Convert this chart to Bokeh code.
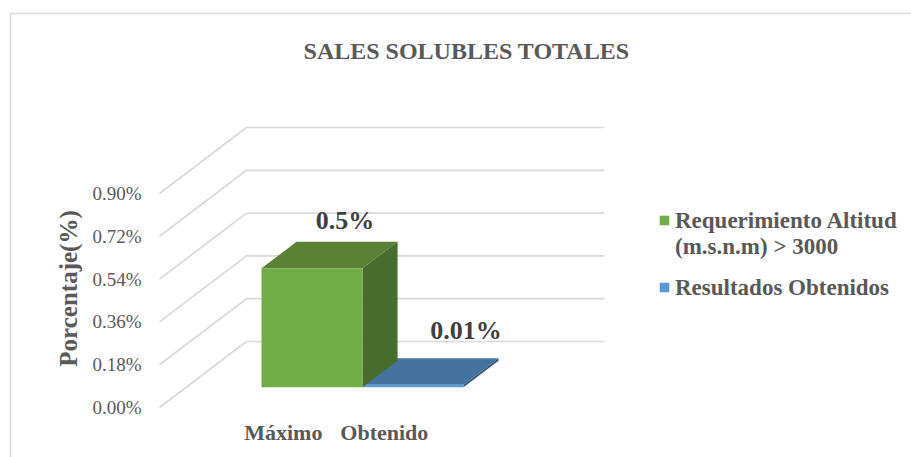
from bokeh.plotting import figure
from bokeh.models import LinearAxis, FixedTicker, Legend, LegendItem
from bokeh.core.properties import value
from bokeh.embed import file_html
from bokeh.resources import INLINE

# data
categories = ["Máximo", "Obtenido"]
series_names = ["Requerimiento Altitud\n(m.s.n.m) > 3000", "Resultados Obtenidos"]
series_values = [0.5, 0.01]
data_labels = ["0.5%", "0.01%"]
y_ticks = [0.0, 0.18, 0.36, 0.54, 0.72, 0.9]
y_tick_labels = ["0.00%", "0.18%", "0.36%", "0.54%", "0.72%", "0.90%"]
title_text = "SALES SOLUBLES TOTALES"
y_title = "Porcentaje(%)"

# styles
FONT = "Liberation Serif"
GRID = "#d9d9d9"
TEXT = "#595959"
FRONT = ["#70AD47", "#5B9BD5"]
TOP = ["#5A8135", "#44739F"]
SIDE = ["#476D2D", "#355A7C"]
LABEL_DX = [-2, 18]
LABEL_DY = [21, 28]

W, H = 911, 457
PX_Y = 0.18 / 42.8          # value per pixel
PX_X = 1 / 101.0            # category per pixel
cat0_page_x = 282.8
zero_page_y = 407.0
BAR_SHIFT = 2 * PX_X
x_start = -cat0_page_x * PX_X
y_start = -(H - zero_page_y) * PX_Y

p = figure(width=W, height=H, output_backend="svg", toolbar_location=None,
           x_range=(x_start, x_start + W * PX_X), y_range=(y_start, y_start + H * PX_Y),
           min_border=0, outline_line_color=None, x_axis_type=None, y_axis_type=None)
p.grid.visible = False

def px(page_x):
    return x_start + page_x * PX_X
def py(page_y):
    return (zero_page_y - page_y) * PX_Y

# depth of the 3-D box, in data units per unit depth
DX, DY = 87 * PX_X, 66 * PX_Y
def proj(cat_x, v, d):
    return cat_x + BAR_SHIFT + d * DX, v + d * DY

# outer chart border (top and left only are visible)
p.segment([px(10), px(10)], [py(13), py(13)],
          [px(911), px(10)], [py(13), py(457)],
          line_color=GRID, line_width=1.7)

# gridlines
gx0, gx1 = px(159), px(246)
gx2 = px(604)
p.multi_line([[gx0, gx1, gx2] for _ in y_ticks],
             [[t, t + DY, t + DY] for t in y_ticks], line_color=GRID, line_width=1.7)

# bars
D0, D1 = 0.307, 0.71
HALF = 0.5
legend_items = {}
for i in [1, 0]:
    v = series_values[i]
    l, r = i - HALF, i + HALF
    xs, ys = zip(*[proj(l, v, D0), proj(r, v, D0), proj(r, v, D1), proj(l, v, D1)])
    p.patch(list(xs), list(ys), fill_color=TOP[i], line_color=None)
    xs, ys = zip(*[proj(r, 0, D0), proj(r, 0, D1), proj(r, v, D1), proj(r, v, D0)])
    p.patch(list(xs), list(ys), fill_color=SIDE[i], line_color=None)
    fx0, fy0 = proj(l, 0, D0)
    fx1, fy1 = proj(r, v, D0)
    legend_items[i] = p.quad(left=[fx0], right=[fx1], bottom=[fy0], top=[fy1],
                             fill_color=FRONT[i], line_color=None)

# y axis
yax = LinearAxis(fixed_location=gx0, ticker=FixedTicker(ticks=y_ticks),
                 major_label_overrides=dict(zip(y_ticks, y_tick_labels)),
                 axis_line_color=None, major_tick_line_color=None, minor_tick_line_color=None,
                 major_label_standoff=12, major_label_text_font=FONT,
                 major_label_text_font_size="19px", major_label_text_color=TEXT)
p.add_layout(yax, "left")

# x axis
xax = LinearAxis(fixed_location=0, ticker=FixedTicker(ticks=[0, 1]),
                 major_label_overrides=dict(zip([0, 1], categories)),
                 axis_line_color=None, major_tick_line_color=None, minor_tick_line_color=None,
                 major_label_standoff=6, major_label_text_font=FONT,
                 major_label_text_font_style="bold",
                 major_label_text_font_size="22px", major_label_text_color=TEXT)
p.add_layout(xax, "below")

# title & axis title
p.text([px(466)], [py(50)], text=[title_text], text_font=value(FONT), text_font_style="bold",
       text_font_size="24px", text_color=TEXT, text_align="center", text_baseline="middle")
p.text([px(68)], [py(288)], text=[y_title], text_font=value(FONT), text_font_style="bold",
       text_font_size="25px", text_color=TEXT, text_align="center", text_baseline="middle",
       angle=1.5708)

# data labels
for i in range(2):
    lx, ly = proj(i, series_values[i], D1)
    p.text([lx], [ly], text=[data_labels[i]], text_font=value(FONT), text_font_style="bold",
           text_font_size="26px", text_color="#404040", text_align="center", text_baseline="middle",
           x_offset=LABEL_DX[i], y_offset=-LABEL_DY[i])

# legend
legend = Legend(items=[LegendItem(label=value(series_names[i]), renderers=[legend_items[i]]) for i in range(2)],
                location=(658, 156), orientation="vertical",
                background_fill_alpha=0, border_line_color=None, margin=0, padding=0,
                glyph_width=12, glyph_height=12, spacing=15, label_standoff=5,
                label_text_font=FONT, label_text_font_style="bold",
                label_text_font_size="23px", label_text_color=TEXT, label_text_line_height=1.0,
                stylesheets=[".bk-glyph, .bk-item > :first-child {align-self:flex-start !important; margin-top:6px;}"])
p.add_layout(legend, "center")

open("out.html", "w").write(file_html(p, INLINE))
